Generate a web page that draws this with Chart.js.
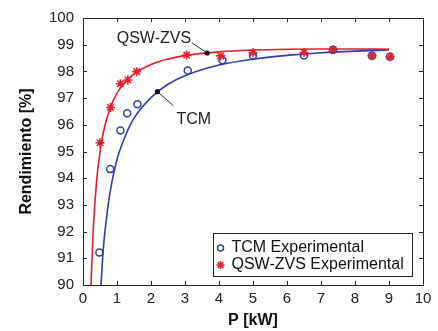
<!DOCTYPE html>
<html>
<head>
<meta charset="utf-8">
<script src="https://cdn.jsdelivr.net/npm/chart.js@4.4.0/dist/chart.umd.min.js"></script>
<style>
  html, body { margin: 0; background: #fff; }
  #wrap { width: 438px; height: 331px; }
</style>
</head>
<body>
<div id="wrap"><canvas id="c"></canvas></div>
<script>
// measured points (P in kW, efficiency in %)
const tcmP   = [0.48, 0.8, 1.1, 1.3, 1.6, 3.08, 4.1, 5.0, 6.5, 7.35, 8.5, 9.03];
const tcmEff = [91.22, 94.34, 95.79, 96.43, 96.77, 98.03, 98.42, 98.6, 98.6, 98.8, 98.59, 98.55];
const qswP   = [0.5, 0.81, 1.1, 1.32, 1.58, 3.05, 4.05, 5.0, 6.5, 7.36, 8.5, 9.03];
const qswEff = [95.33, 96.65, 97.54, 97.68, 97.99, 98.61, 98.58, 98.7, 98.71, 98.82, 98.59, 98.55];

// fitted curves
const tcmFitP   = [0.53, 0.6, 0.7, 0.8, 1, 1.25, 1.5, 2, 2.5, 3, 4, 5, 6, 7, 8, 9];
const tcmFitEff = [90.0, 91.4, 92.6, 93.5, 94.7, 95.6, 96.25, 97.02, 97.52, 97.84, 98.24, 98.46, 98.6, 98.7, 98.76, 98.8];
const qswFitP   = [0.235, 0.3, 0.4, 0.5, 0.6, 0.8, 1, 1.25, 1.5, 2, 2.5, 3, 4, 5, 6, 7, 8, 9];
const qswFitEff = [90.0, 92.04, 93.89, 94.99, 95.73, 96.64, 97.19, 97.62, 97.91, 98.26, 98.46, 98.59, 98.73, 98.8, 98.83, 98.84, 98.84, 98.83];

// labelled points on the curves
const markP   = [2.19, 3.65];
const markEff = [97.24, 98.69];
const markNames = ['TCM', 'QSW-ZVS'];

const xTicks = [0, 1, 2, 3, 4, 5, 6, 7, 8, 9, 10];
const yTicks = [90, 91, 92, 93, 94, 95, 96, 97, 98, 99, 100];

const legendNames = ['TCM Experimental', 'QSW-ZVS Experimental'];

const RED = '#e3202a';
const BLUE = '#2d41a8';
const AXIS = '#262626';
const FONT = "'Liberation Sans', Arial, Helvetica, sans-serif";

const pts = (xs, ys) => xs.map((x, i) => ({ x: x, y: ys[i] }));

// box, inward ticks, legend and the two curve labels
const extras = {
  id: 'extras',
  afterDraw(chart) {
    const ctx = chart.ctx;
    const a = chart.chartArea;
    const xs = chart.scales.x, ys = chart.scales.y;
    ctx.save();
    ctx.strokeStyle = AXIS;
    ctx.lineWidth = 1;
    ctx.strokeRect(Math.round(a.left) + 0.5, Math.round(a.top) + 0.5,
      Math.round(a.right - a.left), Math.round(a.bottom - a.top));
    ctx.beginPath();
    xTicks.forEach(v => {
      const px = Math.round(xs.getPixelForValue(v)) + 0.5;
      ctx.moveTo(px, a.bottom); ctx.lineTo(px, a.bottom - 4);
      ctx.moveTo(px, a.top); ctx.lineTo(px, a.top + 4);
    });
    yTicks.forEach(v => {
      const py = Math.round(ys.getPixelForValue(v)) + 0.5;
      ctx.moveTo(a.left, py); ctx.lineTo(a.left + 4, py);
      ctx.moveTo(a.right, py); ctx.lineTo(a.right - 4, py);
    });
    ctx.stroke();

    // curve labels
    ctx.font = '16px ' + FONT;
    ctx.fillStyle = '#222';
    ctx.textBaseline = 'middle';
    const d0x = xs.getPixelForValue(markP[0]), d0y = ys.getPixelForValue(markEff[0]);
    const d1x = xs.getPixelForValue(markP[1]), d1y = ys.getPixelForValue(markEff[1]);
    ctx.beginPath();
    ctx.moveTo(d0x, d0y); ctx.lineTo(d0x + 16, d0y + 14);
    ctx.moveTo(d1x, d1y); ctx.lineTo(d1x - 15, d1y - 10);
    ctx.stroke();
    ctx.textAlign = 'left';
    ctx.fillText(markNames[0], d0x + 19, d0y + 28);
    ctx.textAlign = 'right';
    ctx.fillText(markNames[1], d1x - 16, d1y - 14);

    // legend
    const lx = 213.5, ly = 233.5, lw = 199, lh = 43;
    ctx.fillStyle = '#fff';
    ctx.fillRect(lx, ly, lw, lh);
    ctx.strokeStyle = AXIS;
    ctx.strokeRect(lx, ly, lw, lh);
    const sets = [chart.data.datasets[0], chart.data.datasets[1]];
    sets.forEach((ds, i) => {
      const y = ly + 14.5 + i * 17;
      ctx.strokeStyle = ds.borderColor;
      ctx.fillStyle = 'rgba(0,0,0,0)';
      ctx.lineWidth = ds.borderWidth;
      Chart.helpers.drawPoint(ctx, {
        pointStyle: ds.pointStyle, radius: ds.pointRadius - 0.5, rotation: 0, borderWidth: ds.borderWidth
      }, lx + 7, y);
      ctx.fillStyle = '#111';
      ctx.textAlign = 'left';
      ctx.font = '16px ' + FONT;
      ctx.fillText(legendNames[i], lx + 18, y);
    });
    ctx.restore();
  }
};

new Chart(document.getElementById('c'), {
  type: 'scatter',
  data: {
    datasets: [
      {
        label: legendNames[0], data: pts(tcmP, tcmEff),
        pointStyle: 'circle', pointRadius: 3.5, borderWidth: 1.5,
        borderColor: BLUE, backgroundColor: 'rgba(0,0,0,0)', order: 3
      },
      {
        label: legendNames[1], data: pts(qswP, qswEff),
        pointStyle: 'star', pointRadius: 4.5, borderWidth: 1.6,
        borderColor: RED, backgroundColor: RED, order: 2
      },
      {
        label: 'TCM', data: pts(tcmFitP, tcmFitEff), showLine: true,
        pointRadius: 0, borderColor: BLUE, borderWidth: 1.6,
        cubicInterpolationMode: 'monotone', order: 5
      },
      {
        label: 'QSW-ZVS', data: pts(qswFitP, qswFitEff), showLine: true,
        pointRadius: 0, borderColor: RED, borderWidth: 1.6,
        cubicInterpolationMode: 'monotone', order: 4
      },
      {
        label: 'marks', data: pts(markP, markEff),
        pointStyle: 'circle', pointRadius: 2.6, borderWidth: 0,
        backgroundColor: '#111', borderColor: '#111', order: 1
      }
    ]
  },
  options: {
    responsive: true,
    maintainAspectRatio: false,
    animation: false,
    layout: { padding: { left: 0, right: 15, top: 18, bottom: 0 } },
    plugins: { legend: { display: false }, tooltip: { enabled: false } },
    scales: {
      x: {
        type: 'linear', min: 0, max: 10,
        grid: { display: false, drawTicks: false },
        border: { display: false },
        afterBuildTicks(s) { s.ticks = xTicks.map(v => ({ value: v })); },
        afterFit(s) { s.height = 46; },
        ticks: { color: '#222', padding: 5, maxRotation: 0, font: { family: FONT, size: 15 } },
        title: {
          display: true, text: 'P [kW]', color: '#111',
          padding: { top: 0, bottom: 1 },
          font: { family: FONT, size: 16, weight: 'bold' }
        }
      },
      y: {
        type: 'linear', min: 90, max: 100,
        grid: { display: false, drawTicks: false },
        border: { display: false },
        afterBuildTicks(s) { s.ticks = yTicks.map(v => ({ value: v })); },
        afterFit(s) { s.width = 83; },
        ticks: { color: '#222', padding: 9, font: { family: FONT, size: 15 } },
        title: {
          display: true, text: 'Rendimiento [%]', color: '#111',
          padding: { top: 17, bottom: 0 },
          font: { family: FONT, size: 16, weight: 'bold' }
        }
      }
    }
  },
  plugins: [extras]
});
</script>
</body>
</html>
